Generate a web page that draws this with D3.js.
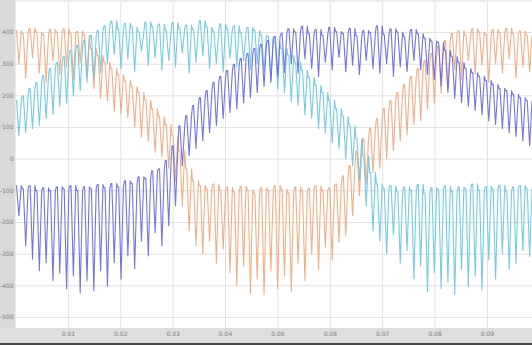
<!DOCTYPE html>
<html>
<head>
<meta charset="utf-8">
<script src="https://cdn.jsdelivr.net/npm/d3@7"></script>
<style>
  html, body { margin: 0; padding: 0; background: #fff; }
  svg { display: block; }
  text { font-family: "DejaVu Sans", sans-serif; }
</style>
</head>
<body>
<script>
// Three-phase switching waveforms: one upper and one lower value per switching cycle.
const sampleStep = 0.0013;            // time between switching cycles
const timeEnd = 0.0986;               // last visible time

const xTicks = [0.01, 0.02, 0.03, 0.04, 0.05, 0.06, 0.07, 0.08, 0.09];
const xTickLabels = ["0.01", "0.02", "0.03", "0.04", "0.05", "0.06", "0.07", "0.08", "0.09"];
const yTicks = [400, 300, 200, 100, 0, -100, -200, -300, -400, -500];
const yTickLabels = ["400", "300", "200", "100", "0", "-100", "-200", "-300", "-400", "-500"];

const seriesNames = ["phase A", "phase B", "phase C"];

// phase A (orange)
const phaseAHigh = [405, 395, 412, 400, 392, 408, 398, 410, 395, 402, 390,
  348, 326, 304, 285, 266, 247, 228, 209, 184, 158, 133, 108, 73, 25, -32, -70,
  -85, -95, -80, -100, -90, -105, -88, -98, -110, -92, -100, -85, -96, -108, -90, -102, -94, -86, -100, -92, -80,
  -54, -22, 25, 63, 95, 127, 158, 184, 209, 234, 260, 285, 310, 332, 354, 373,
  395, 405, 390, 410, 400, 392, 408, 398, 412, 395, 403, 390];
const phaseALow = [300, 255, 320, 270, 240, 310, 265, 290, 250, 305, 260,
  222, 190, 184, 150, 142, 130, 101, 70, 57, 20, 6, -30, -70, -149, -228, -275,
  -300, -260, -330, -285, -360, -400, -340, -425, -380, -430, -355, -410, -370, -420, -330, -385, -300, -350, -280, -320, -265,
  -244, -180, -117, -80, -44, -30, 0, 25, 57, 75, 108, 120, 158, 175, 206, 220,
  280, 250, 310, 265, 295, 240, 300, 270, 315, 255, 290, 275];

// phase B (light blue)
const phaseBHigh = [184, 199, 222, 241, 263, 285, 304, 323, 342, 358, 373, 389, 405,
  420, 435, 410, 428, 415, 400, 432, 418, 425, 405, 430, 412, 422, 408, 436, 415, 402, 426, 410, 420, 398, 415, 405, 390,
  386, 367, 348, 326, 304, 279, 256, 231, 209, 184, 158, 133, 104, 63, 9, -44,
  -80, -95, -85, -105, -90, -100, -82, -110, -92, -98, -86, -104, -90, -95, -80, -100, -88, -96, -84, -102, -90, -85, -95];
const phaseBLow = [73, 82, 95, 105, 127, 140, 165, 175, 199, 215, 241, 253, 272,
  300, 330, 285, 315, 275, 340, 295, 320, 280, 310, 290, 335, 270, 305, 325, 285, 300, 275, 318, 290, 310, 280, 300, 275,
  247, 220, 209, 180, 168, 140, 127, 95, 82, 50, 32, 0, -22, -70, -149, -228,
  -260, -300, -240, -330, -290, -380, -340, -420, -360, -410, -390, -430, -350, -405, -370, -415, -320, -380, -300, -350, -330, -290, -310];

// phase C (dark blue)
const phaseCHigh = [-85, -95, -85, -101, -92, -101, -89, -95, -85, -101, -89, -95, -82, -92, -79, -89, -70, -79, -57, -63, -38, -32, -6,
  41, 104, 136, 168, 193, 215, 241, 260, 279, 298, 316, 332, 348, 361, 373, 386, 396,
  410, 400, 418, 395, 408, 390, 415, 402, 396, 412, 388, 405, 398, 420, 392, 410, 400, 385, 408, 395, 380, 372,
  367, 342, 323, 304, 285, 272, 260, 247, 234, 222, 215, 203, 193, 184];
const phaseCLow = [-180, -275, -317, -354, -329, -386, -361, -411, -370, -424, -386, -418, -354, -402, -329, -380, -307, -348, -260, -307, -234, -275, -212,
  -149, -22, 9, 32, 57, 82, 104, 127, 146, 158, 177, 193, 209, 228, 241, 260, 272,
  300, 270, 315, 285, 260, 305, 280, 320, 275, 295, 265, 310, 285, 270, 300, 260, 290, 275, 310, 280, 265, 250,
  231, 209, 190, 177, 165, 152, 139, 120, 108, 95, 82, 70, 57, 41];

const seriesHigh = [phaseAHigh, phaseBHigh, phaseCHigh];
const seriesLow = [phaseALow, phaseBLow, phaseCLow];
const seriesColors = ["#f0a678", "#66c6e0", "#6666de"];

const W = 532, H = 345;
const plot = { left: 15.5, right: 532, top: 2, bottom: 328 };

const svg = d3.select("body").append("svg").attr("width", W).attr("height", H);

// frame: grey margins round the white plotting area
svg.append("rect").attr("x", 0).attr("y", 0).attr("width", W).attr("height", H).attr("fill", "#ffffff");
svg.append("rect").attr("x", 0).attr("y", 0).attr("width", plot.left).attr("height", plot.bottom).attr("fill", "#d9d9d9");
svg.append("rect").attr("x", 0).attr("y", plot.bottom).attr("width", W).attr("height", H - plot.bottom).attr("fill", "#dedede");
svg.append("rect").attr("x", 0).attr("y", H - 2).attr("width", W).attr("height", 2).attr("fill", "#4a4a4a");
svg.append("rect").attr("x", plot.left).attr("y", 0).attr("width", W - plot.left).attr("height", plot.top).attr("fill", "#ececec");

const x = d3.scaleLinear().domain([0, timeEnd]).range([plot.left, plot.right]);
const y = d3.scaleLinear().domain([-535, 495]).range([plot.bottom, plot.top]);

// grid + tick labels
const xAxis = svg.append("g")
  .attr("transform", `translate(0,${plot.bottom})`)
  .call(d3.axisBottom(x).tickValues(xTicks)
    .tickFormat((d, i) => xTickLabels[i])
    .tickSize(-(plot.bottom - plot.top)).tickPadding(4));
xAxis.select(".domain").remove();
xAxis.selectAll(".tick line").attr("stroke", "#e2e2e2").attr("stroke-width", 1);
xAxis.selectAll(".tick text").attr("fill", "#808080").attr("font-size", 6);

const yAxis = svg.append("g")
  .attr("transform", `translate(${plot.left},0)`)
  .call(d3.axisLeft(y).tickValues(yTicks)
    .tickFormat((d, i) => yTickLabels[i])
    .tickSize(-(plot.right - plot.left)).tickPadding(2));
yAxis.select(".domain").remove();
yAxis.selectAll(".tick line").attr("stroke", "#e2e2e2").attr("stroke-width", 1);
yAxis.selectAll(".tick text").attr("fill", "#808080").attr("font-size", 6);

// waveforms
svg.append("clipPath").attr("id", "plotClip")
  .append("rect").attr("x", plot.left).attr("y", plot.top)
  .attr("width", plot.right - plot.left).attr("height", plot.bottom - plot.top);

const line = d3.line().x(d => x(d[0])).y(d => y(d[1]));

const waves = svg.append("g").attr("clip-path", "url(#plotClip)");
seriesNames.forEach((name, s) => {
  const hi = seriesHigh[s], lo = seriesLow[s];
  const pts = [];
  // each switching cycle: a short hold at the upper value, then a dip to the lower value
  hi.forEach((v, i) => {
    const t = i * sampleStep;
    pts.push([t, v]);
    pts.push([t + sampleStep * 0.15, v]);
    pts.push([t + sampleStep * 0.5, lo[i]]);
    pts.push([t + sampleStep * 0.85, v]);
  });
  waves.append("path")
    .datum(pts)
    .attr("class", name)
    .attr("fill", "none")
    .attr("stroke", seriesColors[s])
    .attr("stroke-width", 1.1)
    .attr("stroke-opacity", 0.9)
    .attr("stroke-linejoin", "round")
    .attr("d", line);
});
</script>
</body>
</html>
